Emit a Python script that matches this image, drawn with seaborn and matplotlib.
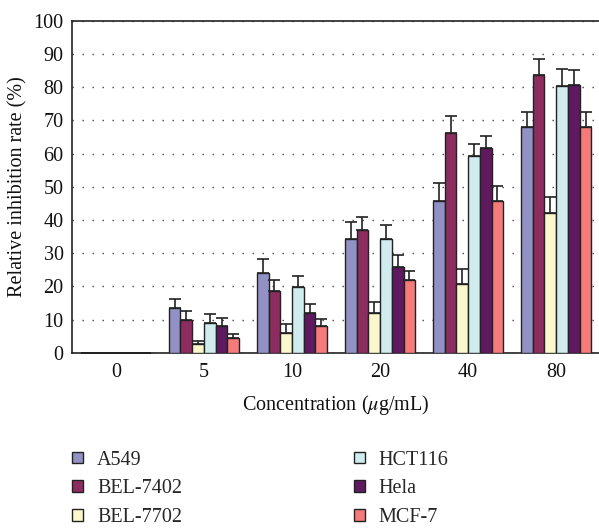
import matplotlib
matplotlib.use("Agg")
import matplotlib.pyplot as plt
import seaborn as sns
import pandas as pd
import numpy as np
from matplotlib.ticker import FixedLocator

concentrations = ["0", "5", "10", "20", "40", "80"]
cell_lines = ["A549", "BEL-7402", "BEL-7702", "HCT116", "Hela", "MCF-7"]
colors = ["#9191c5", "#8d2c5f", "#fbf7cd", "#d0ecee", "#5f1a5f", "#f47b79"]

a549 = [0, 13.4, 23.9, 34.4, 45.8, 68.1]
bel7402 = [0, 10.0, 18.7, 36.9, 66.1, 83.5]
bel7702 = [0, 2.8, 6.0, 12.0, 20.7, 42.2]
hct116 = [0, 9.0, 19.9, 34.4, 59.2, 80.3]
hela = [0, 8.2, 12.1, 25.9, 61.6, 80.6]
mcf7 = [0, 4.4, 8.1, 21.9, 45.8, 68.1]

a549_err = [0, 2.9, 4.2, 5.0, 5.3, 4.5]
bel7402_err = [0, 2.5, 3.2, 4.0, 5.2, 4.9]
bel7702_err = [0, 0.8, 2.6, 3.4, 4.4, 4.8]
hct116_err = [0, 2.7, 3.2, 4.2, 3.6, 5.2]
hela_err = [0, 2.4, 2.5, 3.6, 3.7, 4.4]
mcf7_err = [0, 1.4, 2.0, 2.8, 4.5, 4.5]

values = [a549, bel7402, bel7702, hct116, hela, mcf7]
errors = [a549_err, bel7402_err, bel7702_err, hct116_err, hela_err, mcf7_err]

rows = []
for name, vals in zip(cell_lines, values):
    for c, v in zip(concentrations, vals):
        rows.append({"Concentration": c, "Cell": name, "Rate": v})
df = pd.DataFrame(rows)

sns.set_style("white")
plt.rcParams["font.family"] = ["Liberation Serif", "DejaVu Serif"]
plt.rcParams["mathtext.fontset"] = "stix"

FS = 14.5

fig = plt.figure(figsize=(5.99, 5.29), dpi=100)
ax = fig.add_axes([0.120, 0.333, 0.882, 0.628])

sns.barplot(data=df, x="Concentration", y="Rate", hue="Cell",
            order=concentrations, hue_order=cell_lines,
            palette=colors, saturation=1, width=0.8, gap=0, errorbar=None,
            edgecolor="#222222", linewidth=1.0, ax=ax, legend=True, zorder=3)

for cont, errs in zip(ax.containers, errors):
    xs = [p.get_x() + p.get_width() / 2 for p in cont.patches]
    hs = [p.get_height() for p in cont.patches]
    ax.errorbar(xs, hs, yerr=[np.zeros(len(errs)), errs], fmt="none",
                ecolor="#222222", elinewidth=1.2, capsize=4, capthick=1.2, zorder=4)

ax.set_ylim(0, 100)
ax.set_xlim(-0.5, 5.5)
ax.set_yticks(range(0, 101, 10))
ax.yaxis.grid(True, linestyle=(0, (1, 6.2)), color="#444444", linewidth=1.0)
ax.set_axisbelow(True)

ax.spines["right"].set_visible(False)
for s in ["left", "bottom", "top"]:
    ax.spines[s].set_color("#222222")
    ax.spines[s].set_linewidth(1.2)

ax.tick_params(axis="y", length=0, labelsize=FS, pad=6, colors="#111111")
ax.tick_params(axis="x", which="major", length=0, labelsize=FS, pad=7, colors="#111111")
ax.xaxis.set_minor_locator(FixedLocator([0.5, 1.5, 2.5, 3.5, 4.5]))
ax.tick_params(axis="x", which="minor", direction="in", length=6, width=1.2, color="#222222")

ax.set_ylabel("Relative inhibition rate (%)", fontsize=FS, color="#111111", labelpad=4)
ax.set_xlabel(r"Concentration ($\mu$g/mL)", fontsize=FS, color="#111111", labelpad=8)

handles, labels = ax.get_legend_handles_labels()
ax.legend_.remove()
fig.legend(handles, labels, ncol=2, loc="upper left", bbox_to_anchor=(0.121, 0.148),
           frameon=False, fontsize=FS, handlelength=0.52, handleheight=0.52,
           handletextpad=0.7, labelspacing=0.48, columnspacing=8.55,
           borderpad=0, borderaxespad=0)

fig.savefig("out.png", dpi=100)
